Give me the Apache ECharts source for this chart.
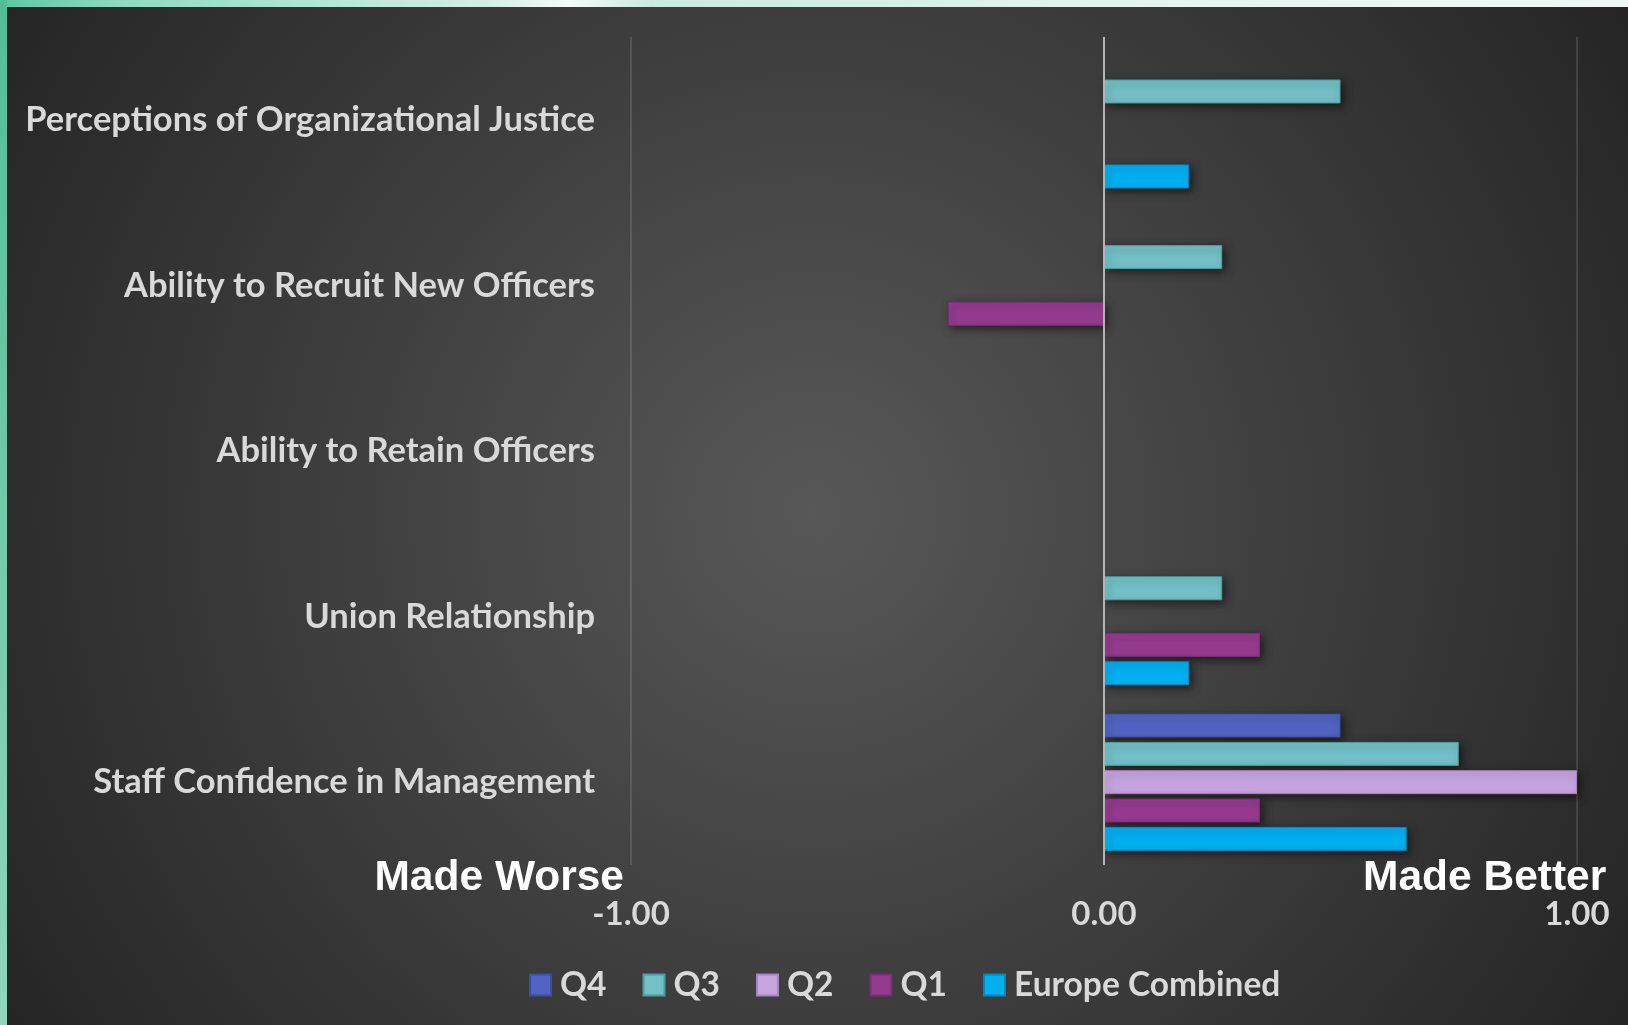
<!DOCTYPE html>
<html>
<head>
<meta charset="utf-8">
<script src="https://cdn.jsdelivr.net/npm/echarts@6/dist/echarts.min.js"></script>
<style>
html,body{margin:0;padding:0;background:#2a2a2a;}
#chart{width:1628px;height:1025px;}
</style>
</head>
<body>
<div id="chart"></div>
<script>
const categories = ['Perceptions of Organizational Justice','Ability to Recruit New Officers','Ability to Retain Officers','Union Relationship','Staff Confidence in Management'];
const seriesNames = ['Q4','Q3','Q2','Q1','Europe Combined'];
const q4 = [null, null, null, null, 0.50];
const q3 = [0.50, 0.25, null, 0.25, 0.75];
const q2 = [null, null, null, null, 1.00];
const q1 = [null, -0.33, null, 0.33, 0.33];
const europe = [0.18, null, null, 0.18, 0.64];
const tickValues = [-1, 0, 1];
const sideLabels = ['Made Worse', 'Made Better'];

const colors = ['#5064C2', '#73C0C6', '#C7A4DF', '#953B8F', '#00B0F0'];
const borders = ['#3F4FA0', '#4E9CA3', '#A584BF', '#7A2F75', '#0088C0'];
const values = [q4, q3, q2, q1, europe];

const font = 'Lato';
const chart = echarts.init(document.getElementById('chart'));

const series = seriesNames.map((name, i) => ({
  name: name,
  type: 'bar',
  data: values[i],
  barWidth: 24,
  barGap: '18%',
  itemStyle: {
    color: colors[i],
    borderColor: borders[i],
    borderWidth: 1,
    shadowBlur: 8,
    shadowColor: 'rgba(0,0,0,0.55)',
    shadowOffsetX: 3,
    shadowOffsetY: 3
  },
  z: 3
}));
series[0].markLine = {
  silent: true,
  symbol: 'none',
  label: {show: false},
  lineStyle: {color: '#b4b4b4', width: 2, type: 'solid'},
  data: [{xAxis: 0}],
  z: 4
};

chart.setOption({
  backgroundColor: {
    type: 'radial', x: 0.5, y: 0.5, r: 0.95,
    colorStops: [
      {offset: 0, color: '#585858'},
      {offset: 1, color: '#242424'}
    ]
  },
  animation: false,
  legend: {
    data: seriesNames,
    left: 524,
    top: 963,
    icon: 'rect',
    itemWidth: 21,
    itemHeight: 21,
    itemGap: 36,
    textStyle: {color: '#d9d9d9', fontSize: 33.5, fontWeight: 'bold', fontFamily: font, padding: [0,0,0,4]}
  },
  grid: {left: 631, right: 51, top: 37, bottom: 160, containLabel: false},
  xAxis: {
    type: 'value',
    min: tickValues[0],
    max: tickValues[tickValues.length - 1],
    interval: 1,
    axisLine: {show: false},
    axisTick: {show: false},
    splitLine: {show: true, lineStyle: {color: 'rgba(255,255,255,0.12)', width: 2}},
    axisLabel: {
      color: '#d9d9d9', fontSize: 33, fontWeight: 'bold', fontFamily: font, margin: 33,
      formatter: v => v.toFixed(2)
    }
  },
  yAxis: {
    type: 'category',
    data: categories,
    inverse: true,
    axisLine: {show: false, onZero: false},
    axisTick: {show: false},
    axisLabel: {color: '#d9d9d9', fontSize: 34.5, fontWeight: 'bold', fontFamily: font, margin: 36}
  },
  graphic: [
    {type: 'rect', left: 0, top: 0, shape: {width: 1628, height: 7},
     style: {fill: new echarts.graphic.LinearGradient(0, 0, 1, 0, [
       {offset: 0, color: '#5cc8a2'}, {offset: 0.08, color: '#8fdcc2'}, {offset: 0.3, color: '#d3efe5'},
       {offset: 0.35, color: '#f4fbf8'}, {offset: 0.4, color: '#c9ebdf'}, {offset: 0.7, color: '#e4f5ef'}, {offset: 1, color: '#eef9f5'}])}, z: 10},
    {type: 'rect', left: 0, top: 0, shape: {width: 7, height: 1025},
     style: {fill: new echarts.graphic.LinearGradient(0, 0, 0, 1, [
       {offset: 0, color: '#4fbf95'}, {offset: 1, color: '#8fd6bb'}])}, z: 10},
    {type: 'text', right: 1628 - 624, top: 857,
     style: {text: sideLabels[0], fill: '#ffffff', font: 'bold 42.5px "Liberation Sans", Arial, sans-serif'}, z: 10},
    {type: 'text', left: 1363, top: 857,
     style: {text: sideLabels[1], fill: '#ffffff', font: 'bold 42.5px "Liberation Sans", Arial, sans-serif'}, z: 10}
  ],
  series: series
});
</script>
</body>
</html>
